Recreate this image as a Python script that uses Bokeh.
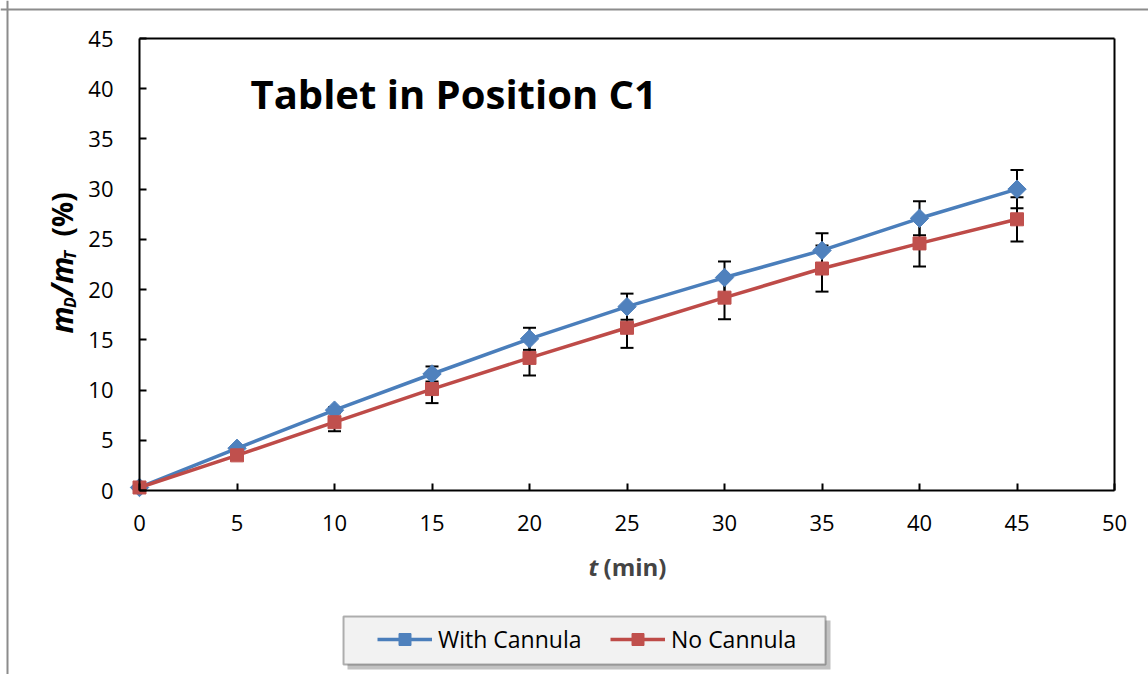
import numpy as np
from bokeh.plotting import figure
from bokeh.models import (Range1d, FixedTicker, ColumnDataSource, Whisker, TeeHead,
                          Legend, LegendItem, Label, LinearAxis, Span, BoxAnnotation)
from bokeh.embed import file_html
from bokeh.resources import INLINE

# ---- data ----
t_min = [0, 5, 10, 15, 20, 25, 30, 35, 40, 45]
with_cannula = [0.3, 4.2, 8.0, 11.6, 15.1, 18.3, 21.2, 23.9, 27.1, 30.0]
with_cannula_err = [0.0, 0.2, 0.3, 0.75, 1.1, 1.3, 1.6, 1.7, 1.7, 1.9]
no_cannula = [0.3, 3.5, 6.8, 10.1, 13.2, 16.2, 19.2, 22.1, 24.6, 27.0]
no_cannula_err = [0.0, 0.2, 0.9, 1.4, 1.75, 2.0, 2.15, 2.3, 2.3, 2.2]
x_ticks = [0, 5, 10, 15, 20, 25, 30, 35, 40, 45, 50]
y_ticks = [0, 5, 10, 15, 20, 25, 30, 35, 40, 45]
series_names = ["With Cannula", "No Cannula"]
title_text = "Tablet in Position C1"

FONT = "Open Sans"
BLUE_LINE, BLUE_FILL = "#4a7ebb", "#4f81bd"
RED_LINE, RED_FILL = "#be4b48", "#c0504d"

W, H = 1148, 674
# plotting box in canvas pixels: x 0..50 -> 139..1114, y 0..45 -> 490..38
PX0, PX1, PY0, PY1 = 139, 1114, 490, 38
XMAX, YMAX = 50, 45

def dx(px):
    return (px - PX0) / (PX1 - PX0) * XMAX
def dy(py):
    return (PY0 - py) / (PY0 - PY1) * YMAX

p = figure(width=W, height=H, output_backend="svg", toolbar_location=None,
           x_range=Range1d(dx(0), dx(W)), y_range=Range1d(dy(H), dy(0)),
           x_axis_type=None, y_axis_type=None,
           min_border=0, min_border_left=0, min_border_right=0,
           min_border_top=0, min_border_bottom=0)
p.grid.visible = False
p.outline_line_color = None
p.background_fill_color = "white"
p.border_fill_color = "white"

def style_axis(ax, ticks, labels=True):
    ax.ticker = FixedTicker(ticks=ticks)
    ax.axis_line_color = "black"
    ax.axis_line_width = 2
    ax.major_tick_line_color = "black"
    ax.major_tick_line_width = 2
    ax.major_tick_in = 7
    ax.major_tick_out = 0
    ax.minor_tick_line_color = None
    ax.major_label_text_font = FONT
    ax.major_label_text_font_size = "22px"
    ax.major_label_text_color = "black"
    if not labels:
        ax.major_label_text_color = None

xax = LinearAxis(fixed_location=0, bounds=(0, XMAX))
style_axis(xax, x_ticks)
xax.major_label_standoff = 24
p.add_layout(xax, "below")

yax = LinearAxis(fixed_location=0, bounds=(0, YMAX))
style_axis(yax, y_ticks)
yax.major_label_standoff = 26
p.add_layout(yax, "left")

top_ax = LinearAxis(fixed_location=YMAX, bounds=(0, XMAX))
style_axis(top_ax, [], labels=False)
p.add_layout(top_ax, "above")
right_ax = LinearAxis(fixed_location=XMAX, bounds=(0, YMAX))
style_axis(right_ax, [], labels=False)
p.add_layout(right_ax, "right")

# outer chart-area border (left and top visible)
p.add_layout(Span(location=dx(7), dimension="height", line_color="#8c8c8c", line_width=2))
p.add_layout(Span(location=dy(9), dimension="width", line_color="#8c8c8c", line_width=2))

def err_src(y, e):
    return ColumnDataSource(dict(x=t_min, up=[a + b for a, b in zip(y, e)],
                                 lo=[a - b for a, b in zip(y, e)]))

for y, e in ((with_cannula, with_cannula_err), (no_cannula, no_cannula_err)):
    w = Whisker(base="x", upper="up", lower="lo", source=err_src(y, e),
                dimension="height", line_color="black", line_width=2,
                upper_head=TeeHead(size=13, line_color="black", line_width=2),
                lower_head=TeeHead(size=13, line_color="black", line_width=2))
    p.add_layout(w)

l1 = p.line(t_min, with_cannula, line_color=BLUE_LINE, line_width=3.5)
s1 = p.scatter(t_min, with_cannula, marker="square", angle=np.pi / 4, size=13,
               fill_color=BLUE_FILL, line_color=BLUE_FILL)
l2 = p.line(t_min, no_cannula, line_color=RED_LINE, line_width=3.5)
s2 = p.scatter(t_min, no_cannula, marker="square", size=13,
               fill_color=RED_FILL, line_color=RED_FILL)

p.add_layout(Label(x=dx(250), y=dy(93), text=title_text, text_font=FONT,
                   text_font_style="bold", text_font_size="40px",
                   text_color="black", text_baseline="middle"))

# x axis title: t (min)
p.add_layout(Label(x=dx(588), y=dy(566), text="t", text_font=FONT,
                   text_font_style="bold italic", text_font_size="24px",
                   text_baseline="middle"))
p.add_layout(Label(x=dx(603), y=dy(566), text="(min)", text_font=FONT,
                   text_font_style="bold", text_font_size="24px",
                   text_baseline="middle"))

# y axis title: m_D/m_T (%)  (rotated pieces, reading bottom to top)
cx = 60.5
parts = [("m", 333, 0, "30px", "bold italic"),
         ("D", 307.5, 8.5, "16px", "bold italic"),
         ("/m", 296, 0, "30px", "bold italic"),
         ("T", 259, 8.5, "16px", "bold italic"),
         ("(%)", 236, 0.5, "28px", "bold")]
for txt, py, off, fs, st in parts:
    p.add_layout(Label(x=dx(cx + off), y=dy(py), text=txt, text_font=FONT,
                       text_font_style=st, text_font_size=fs, angle=90,
                       angle_units="deg", text_baseline="middle",
                       text_align="left", text_color="black"))

# legend frame with drop shadow
p.add_layout(BoxAnnotation(left=dx(347), right=dx(830), top=dy(620), bottom=dy(669),
                           fill_color="#8f8f8f", fill_alpha=0.55, line_color=None))
p.add_layout(BoxAnnotation(left=dx(343), right=dx(825), top=dy(616), bottom=dy(664),
                           fill_color="#f2f2f2", fill_alpha=1, line_color="black",
                           line_width=2))

legend = Legend(items=[LegendItem(label=series_names[0], renderers=[l1, s1]),
                       LegendItem(label=series_names[1], renderers=[l2, s2])],
                orientation="horizontal", location=(377, 674 - 640 - 15),
                label_text_font=FONT, label_text_font_size="23px",
                label_text_color="black", glyph_width=55, glyph_height=30,
                label_height=30, label_width=172, label_standoff=6, spacing=0,
                padding=0, margin=0, background_fill_alpha=0,
                border_line_color=None)
p.add_layout(legend, "center")

open("out.html", "w").write(file_html(p, INLINE))
